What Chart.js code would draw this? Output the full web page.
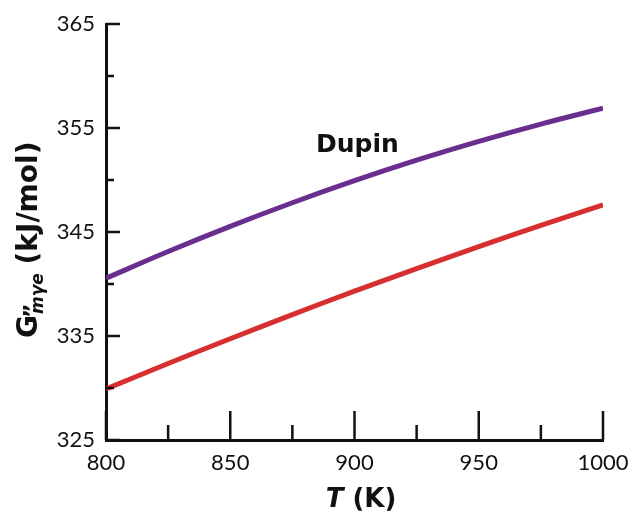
<!DOCTYPE html>
<html>
<head>
<meta charset="utf-8">
<style>
  html, body { margin: 0; padding: 0; background: #fff; }
  #wrap { width: 633px; height: 516px; }
</style>
<script src="https://cdn.jsdelivr.net/npm/chart.js@4.4.0/dist/chart.umd.min.js"></script>
</head>
<body>
<div id="wrap"><canvas id="gChart" width="633" height="516"></canvas></div>
<script>
// temperatures (K)
const temps = [800, 825, 850, 875, 900, 925, 950, 975, 1000]
// Dupin curve (purple)
const dupinValues = [340.55, 343.12, 345.54, 347.81, 349.93, 351.90, 353.71, 355.38, 356.90]
// second curve (red)
const redValues = [329.9, 332.36, 334.74, 337.06, 339.31, 341.48, 343.59, 345.63, 347.6]

const xMajor = [800, 850, 900, 950, 1000]
const xMinor = [825, 875, 925, 975]
const yMajor = [325, 335, 345, 355, 365]
const yMinor = [330, 340, 350, 360]

const labelText = 'Dupin'
const labelPos = [884.5, 353.3]

const TICKFONT = 'Lato, "Open Sans", sans-serif'
const BOLDFONT = '"DejaVu Sans", Lato, sans-serif'

// inward tick marks, Dupin label and the axis titles
const decorations = {
    id: 'decorations',
    afterDraw(chart) {
        const ctx = chart.ctx
        const x = chart.scales.x
        const y = chart.scales.y
        const area = chart.chartArea
        ctx.save()
        ctx.strokeStyle = '#111'
        ctx.lineWidth = 2.5
        ctx.beginPath()
        xMajor.forEach(v => {
            const px = x.getPixelForValue(v)
            ctx.moveTo(px, area.bottom); ctx.lineTo(px, area.bottom - 29)
        })
        xMinor.forEach(v => {
            const px = x.getPixelForValue(v)
            ctx.moveTo(px, area.bottom); ctx.lineTo(px, area.bottom - 15)
        })
        yMajor.forEach(v => {
            const py = y.getPixelForValue(v)
            ctx.moveTo(area.left, py); ctx.lineTo(area.left + 14, py)
        })
        yMinor.forEach(v => {
            const py = y.getPixelForValue(v)
            ctx.moveTo(area.left, py); ctx.lineTo(area.left + 8, py)
        })
        ctx.stroke()

        // series label
        ctx.fillStyle = '#111'
        ctx.font = 'bold 25px ' + BOLDFONT
        ctx.textAlign = 'left'
        ctx.textBaseline = 'middle'
        ctx.fillText(labelText, x.getPixelForValue(labelPos[0]), y.getPixelForValue(labelPos[1]))

        // x title: T (K)
        ctx.textBaseline = 'alphabetic'
        const tPart = 'T'
        const kPart = ' (K)'
        ctx.font = 'italic bold 26px ' + BOLDFONT
        const wT = ctx.measureText(tPart).width
        ctx.font = 'bold 26px ' + BOLDFONT
        const wK = ctx.measureText(kPart).width
        const sx = 361 - (wT + wK) / 2
        const sy = 507
        ctx.font = 'italic bold 26px ' + BOLDFONT
        ctx.fillText(tPart, sx, sy)
        ctx.font = 'bold 26px ' + BOLDFONT
        ctx.fillText(kPart, sx + wT, sy)

        // y title: G''_mγe (kJ/mol), rotated, reading bottom to top
        ctx.translate(37, 338)
        ctx.rotate(-Math.PI / 2)
        const gPart = 'G'
        const sub = 'mγe'
        const unit = ' (kJ/mol)'
        ctx.font = 'bold 28px ' + BOLDFONT
        const wG = ctx.measureText(gPart).width
        ctx.fillText(gPart, 0, 0)
        ctx.font = 'bold 22px ' + BOLDFONT
        ctx.fillText('\u201D', wG - 3, 2)
        ctx.font = 'italic bold 17px ' + BOLDFONT
        const wS = ctx.measureText(sub).width
        ctx.fillText(sub, wG + 1, 6)
        ctx.font = 'bold 28px ' + BOLDFONT
        ctx.fillText(unit, wG + wS, 0)
        ctx.restore()
    }
}

new Chart(document.getElementById('gChart'), {
    type: 'line',
    data: {
        labels: temps,
        datasets: [
            {
                label: 'Dupin',
                data: temps.map((t, i) => ({ x: t, y: dupinValues[i] })),
                borderColor: '#6a2e8f',
                borderWidth: 5,
                pointRadius: 0,
                tension: 0.4,
                fill: false
            },
            {
                label: 'other',
                data: temps.map((t, i) => ({ x: t, y: redValues[i] })),
                borderColor: '#d72e30',
                borderWidth: 5,
                pointRadius: 0,
                tension: 0.4,
                fill: false
            }
        ]
    },
    options: {
        responsive: false,
        animation: false,
        layout: {
            padding: { top: 24, right: 30, left: 0, bottom: 0 }
        },
        plugins: {
            legend: { display: false },
            tooltip: { enabled: false },
            title: { display: false }
        },
        scales: {
            x: {
                type: 'linear',
                min: 800,
                max: 1000,
                ticks: {
                    stepSize: 50,
                    color: '#111',
                    padding: 10,
                    font: { family: TICKFONT, size: 22 },
                    callback: v => String(v)
                },
                grid: { display: false, drawTicks: false },
                border: { display: true, color: '#111', width: 3 },
                afterFit: scale => {
                    scale.height = 76
                    scale.paddingLeft = 0
                    scale.paddingRight = 0
                }
            },
            y: {
                min: 325,
                max: 365,
                ticks: {
                    stepSize: 10,
                    color: '#111',
                    padding: 11,
                    font: { family: TICKFONT, size: 22 },
                    callback: v => String(v)
                },
                grid: { display: false, drawTicks: false },
                border: { display: true, color: '#111', width: 3 },
                afterFit: scale => {
                    scale.width = 106
                    scale.paddingTop = 0
                    scale.paddingBottom = 0
                }
            }
        }
    },
    plugins: [decorations]
});
</script>
</body>
</html>
